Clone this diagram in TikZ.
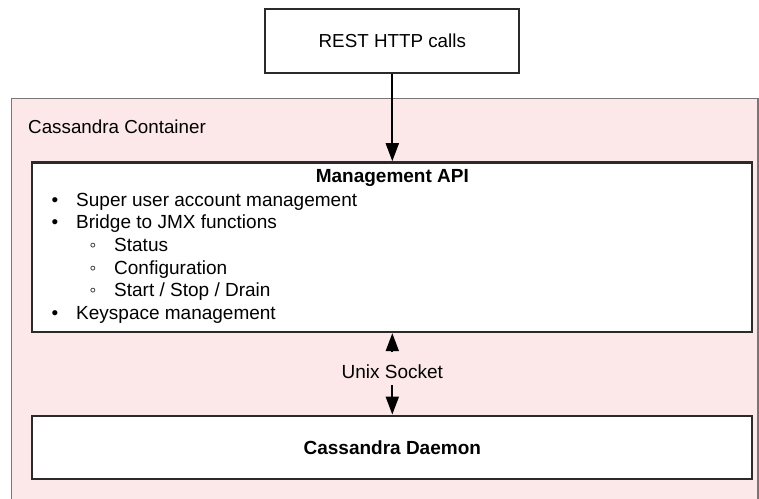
\documentclass[tikz,border=0pt]{standalone}
\usepackage{fontspec}
\setmainfont{Liberation Sans}
\usetikzlibrary{arrows.meta}
\definecolor{contpink}{HTML}{FCE8E8}
\definecolor{contline}{HTML}{777777}
\definecolor{boxline}{HTML}{2A2A2A}
\tikzset{
  box/.style={draw=boxline, line width=2.3pt, fill=white, inner sep=0pt},
  conn/.style={line width=2pt, -{Triangle[length=18pt,width=13pt]}},
  item/.style={anchor=base west, inner sep=0pt, font=\fontsize{19}{22}\selectfont},
  dot/.style={anchor=base, inner sep=0pt, font=\fontsize{19}{22}\selectfont},
}
\begin{document}
\begin{tikzpicture}[x=1pt,y=-1pt]
\useasboundingbox (0,0) rectangle (759,498);
\clip (0,0) rectangle (759,498);
% container
\draw[draw=contline, line width=1.4pt, fill=contpink] (11.7,98.3) rectangle (758,530);
\node[anchor=base west, inner sep=0pt, font=\fontsize{18.8}{22}\selectfont] (contlabel) at (28,133.3) {Cassandra Container};
% REST box
\node[box, minimum width=254pt, minimum height=63.4pt, font=\fontsize{18.8}{22}\selectfont] (rest) at (392.3,41) {REST HTTP calls};
% Management API box
\node[box, minimum width=720pt, minimum height=169.7pt] (mgmt) at (392.3,247.2) {};
\node[anchor=base, inner sep=0pt, font=\fontsize{19}{22}\selectfont\bfseries] (mtitle) at (392.3,182.3) {Management API};
\node[dot] (b1) at (55,206) {•};
\node[item] (t1) at (76,206) {Super user account management};
\node[dot] (b2) at (55,228.5) {•};
\node[item] (t2) at (76,228.5) {Bridge to JMX functions};
\node[dot] (b3) at (93,251) {◦};
\node[item] (t3) at (114,251) {Status};
\node[dot] (b4) at (93,274) {◦};
\node[item] (t4) at (114,274) {Configuration};
\node[dot] (b5) at (93,296.7) {◦};
\node[item] (t5) at (114,296.7) {Start / Stop / Drain};
\node[dot] (b6) at (55,319.3) {•};
\node[item] (t6) at (76,319.3) {Keyspace management};
% Daemon box
\node[box, minimum width=720pt, minimum height=63.6pt, font=\fontsize{19}{22}\selectfont\bfseries] (daemon) at (392.3,447.5) {Cassandra Daemon};
% connectors
\draw[conn] (rest.south) -- (mgmt.north);
\node[inner sep=0pt, font=\fontsize{19}{22}\selectfont] (sock) at (392.3,371.5) {Unix Socket};
\draw[conn] ([yshift=12pt]sock.north) -- (mgmt.south);
\draw[conn] ([yshift=-6.5pt]sock.south) -- (daemon.north);
\end{tikzpicture}
\end{document}
